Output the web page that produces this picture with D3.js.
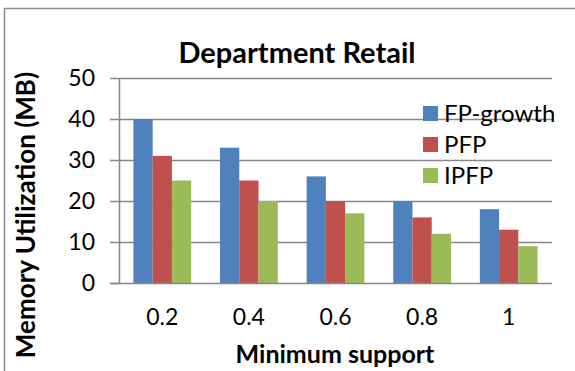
<!DOCTYPE html>
<html>
<head>
<meta charset="utf-8">
<script src="https://cdn.jsdelivr.net/npm/d3@7/dist/d3.min.js"></script>
<style>
  html, body { margin: 0; padding: 0; background: #fff; }
  svg { display: block; }
  text { font-family: Lato, "Open Sans", sans-serif; fill: #000; }
</style>
</head>
<body>
<svg id="chart" width="575" height="371"></svg>
<script>
// Memory use per algorithm at each minimum-support level
const categories = ["0.2", "0.4", "0.6", "0.8", "1"];
const seriesNames = ["FP-growth", "PFP", "IPFP"];
const fpGrowth = [40, 33, 26, 20, 18];
const pfp = [31, 25, 20, 16, 13];
const ipfp = [25, 20, 17, 12, 9];
const yTicks = [0, 10, 20, 30, 40, 50];
const colors = ["#4F81BD", "#C0504D", "#9BBB59"];

const seriesValues = [fpGrowth, pfp, ipfp];
const rows = categories.map((c, i) => ({
  cat: c,
  values: seriesNames.map((s, j) => ({ name: s, value: seriesValues[j][i] }))
}));

const svg = d3.select("#chart");
const plot = { left: 119, right: 552, top: 78, bottom: 283 };

// outer chart frame (runs past the right and bottom edges)
svg.append("rect")
  .attr("x", 4.5).attr("y", 8.5)
  .attr("width", 620).attr("height", 420)
  .attr("fill", "none").attr("stroke", "#8c8c8c").attr("stroke-width", 1.5);

const x0 = d3.scaleBand().domain(categories).range([plot.left, plot.right]).padding(0);
// 150% gap between groups: 3 bars + 1.5 bar widths per category
const x1 = d3.scaleBand().domain(seriesNames).range([0, x0.bandwidth()])
  .paddingInner(0).paddingOuter(0.75);
const y = d3.scaleLinear().domain([0, 50]).range([plot.bottom, plot.top]);

// gridlines
svg.append("g")
  .selectAll("line")
  .data(yTicks.filter(t => t > 0))
  .join("line")
  .attr("x1", plot.left).attr("x2", plot.right)
  .attr("y1", d => Math.round(y(d)) + 0.5).attr("y2", d => Math.round(y(d)) + 0.5)
  .attr("stroke", "#878787").attr("stroke-width", 1.5);

// y axis
const yAxis = svg.append("g")
  .attr("transform", `translate(${plot.left},0)`)
  .call(d3.axisLeft(y).tickValues(yTicks).tickSize(9).tickPadding(15).tickSizeOuter(0));
yAxis.select(".domain").attr("stroke", "#878787").attr("stroke-width", 1.5);
yAxis.selectAll(".tick line").attr("stroke", "#878787").attr("stroke-width", 1.5);
yAxis.selectAll(".tick text")
  .style("font-family", "Lato, sans-serif").attr("font-size", 23).attr("fill", "#000");

// bars
const groups = svg.append("g")
  .selectAll("g")
  .data(rows)
  .join("g")
  .attr("transform", d => `translate(${x0(d.cat)},0)`);
groups.selectAll("rect")
  .data(d => d.values)
  .join("rect")
  .attr("x", d => x1(d.name))
  .attr("width", x1.bandwidth())
  .attr("y", d => y(d.value))
  .attr("height", d => y(0) - y(d.value))
  .attr("fill", (d, i) => colors[i]);

// x axis
const xAxis = svg.append("g")
  .attr("transform", `translate(0,${plot.bottom})`)
  .call(d3.axisBottom(x0).tickSize(0).tickPadding(26).tickSizeOuter(0));
xAxis.select(".domain").attr("stroke", "#878787").attr("stroke-width", 1.5)
  .attr("d", `M${plot.left - 9},0.5H${plot.right}`);
xAxis.selectAll(".tick text")
  .style("font-family", "Lato, sans-serif").attr("font-size", 23).attr("fill", "#000");

// title
svg.append("text")
  .attr("x", 297).attr("y", 63)
  .attr("text-anchor", "middle")
  .attr("font-size", 29).attr("font-weight", "bold")
  .text("Department Retail");

// axis titles
svg.append("text")
  .attr("x", 335).attr("y", 363)
  .attr("text-anchor", "middle")
  .attr("font-size", 25).attr("font-weight", "bold")
  .text("Minimum support");

svg.append("text")
  .attr("transform", "translate(35,215) rotate(-90)")
  .attr("text-anchor", "middle")
  .attr("font-size", 26).attr("font-weight", "bold")
  .text("Memory Utilization (MB)");

// legend
const legend = svg.append("g")
  .selectAll("g")
  .data(seriesNames)
  .join("g")
  .attr("transform", (d, i) => `translate(423,${106 + i * 31})`);
legend.append("rect")
  .attr("width", 15).attr("height", 15)
  .attr("fill", (d, i) => colors[i]);
legend.append("text")
  .attr("x", 21).attr("y", 16)
  .attr("font-size", 24)
  .text(d => d);
</script>
</body>
</html>
